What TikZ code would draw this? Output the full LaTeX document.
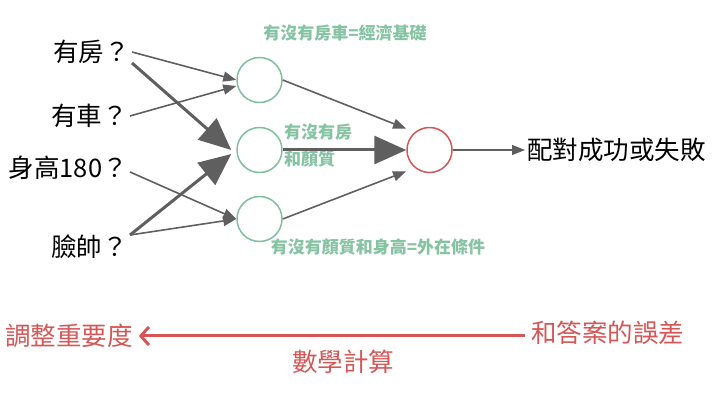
\documentclass[tikz,border=0pt]{standalone}
\usepackage{fontspec}
\setmainfont{Noto Sans CJK TC}
\usetikzlibrary{arrows.meta,positioning}
\definecolor{nodegreen}{HTML}{7FBF9F}
\definecolor{lblgreen}{HTML}{86C3A3}
\definecolor{errred}{HTML}{D45656}
\definecolor{wgray}{HTML}{5F5F5F}
\tikzset{
  inp/.style={anchor=east, inner sep=2pt, font=\fontsize{25.5}{28}\selectfont},
  hid/.style={circle, draw=nodegreen, line width=1.5pt, minimum size=45pt, inner sep=0pt},
  outn/.style={circle, draw=errred, line width=1.5pt, minimum size=45pt, inner sep=0pt},
  lbl/.style={text=lblgreen, inner sep=1pt, font=\fontsize{17}{19}\selectfont\bfseries},
  redtxt/.style={text=errred, inner sep=2pt, font=\fontsize{25.5}{28}\selectfont},
  wt/.style={draw=wgray, line width=1.6pt, -{Triangle[length=13pt,width=10pt]}},
  bigwt/.style={draw=wgray, line width=3pt, -{Triangle[length=32pt,width=28pt]}},
  back/.style={draw=errred, line width=3pt, -{Straight Barb[length=8pt,width=18pt]}},
}
\begin{document}
\begin{tikzpicture}[x=1pt, y=-1pt, line join=round]
\useasboundingbox (0,0) rectangle (723,403);
% inputs
\node[inp] (house) at (132,52) {有房？};
\node[inp] (car) at (130,116) {有車？};
\node[inp] (tall) at (130,168) {身高180？};
\node[inp] (face) at (130,247) {臉帥？};
% hidden layer and output
\node[hid] (h1) at (259.5,80) {};
\node[hid] (h2) at (259.5,150) {};
\node[hid] (h3) at (259.5,219) {};
\node[outn] (out) at (429.5,150) {};
\node[anchor=west, inner sep=2pt, font=\fontsize{25.5}{28}\selectfont] (res) at (525,150) {配對成功或失敗};
% labels
\node[lbl] (econ) at (345,33) {有沒有房車=經濟基礎};
\node[lbl, anchor=west] (mix1) at (283,132) {有沒有房};
\node[lbl, anchor=west] (mix2) at (283,159) {和顏質};
\node[lbl] (look) at (378,247) {有沒有顏質和身高=外在條件};
% weights
\draw[wt] (house.east) -- (h1.west);
\draw[wt] (car.east) -- ([yshift=-6pt]h1.west);
\draw[bigwt] ([yshift=-11pt]house.east) -- ([xshift=-5pt]h2.west);
\draw[bigwt] ([yshift=12pt]face.east) -- ([xshift=-5pt,yshift=-4pt]h2.west);
\draw[wt] ([yshift=-4pt]tall.east) -- (h3.west);
\draw[wt] ([yshift=12pt]face.east) -- (h3.west);
\draw[wt] (h1.east) -- ([shift={(-7pt,5pt)}]out.north west);
\draw[bigwt] (h2.east) -- (out.west);
\draw[wt] (h3.east) -- ([shift={(-7pt,-5pt)}]out.south west);
\draw[wt, line width=1.4pt] (out.east) -- (res.west);
% error feedback
\node[redtxt, anchor=west] (adj) at (3,336) {調整重要度};
\node[redtxt, anchor=west] (err) at (529,333) {和答案的誤差};
\node[redtxt] (calc) at (343,362) {數學計算};
\draw[back] ([xshift=-4pt]err.west |- adj.east) -- ([xshift=4pt]adj.east);
\end{tikzpicture}
\end{document}
